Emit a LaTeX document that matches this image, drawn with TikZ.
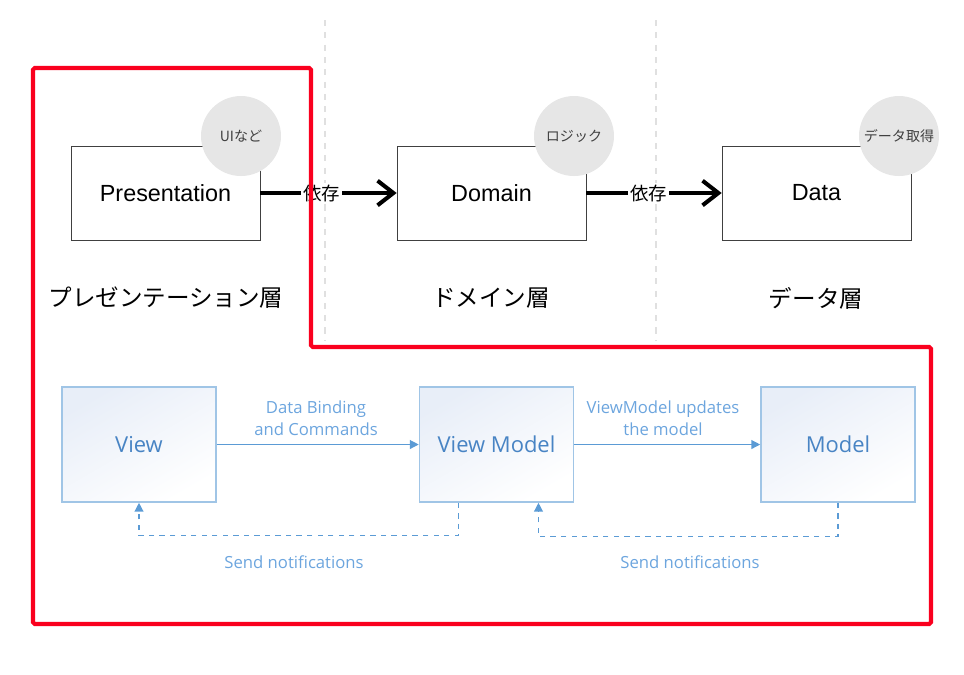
\documentclass[tikz,border=0pt]{standalone}
\usepackage{fontspec}
\setmainfont{Liberation Sans}
\newfontfamily\jpfont{Noto Sans CJK JP}
\newfontfamily\uifont{Open Sans}
\usetikzlibrary{arrows.meta, positioning}
\definecolor{alertred}{RGB}{250, 0, 30}
\definecolor{mvvmline}{RGB}{91, 155, 213}
\definecolor{mvvmedge}{RGB}{160, 197, 230}
\definecolor{mvvmtext}{RGB}{72, 132, 196}
\definecolor{mvvmlabel}{RGB}{108, 165, 222}
\definecolor{mvvmfill}{RGB}{232, 238, 248}
\definecolor{tagfill}{RGB}{230, 230, 230}

\begin{document}
\begin{tikzpicture}[
  x=0.02cm, y=-0.02cm,
  layerbox/.style={draw=black!75, fill=white, minimum width=3.78cm, minimum height=1.88cm, font=\fontsize{13.3}{15}\selectfont},
  tag/.style={circle, fill=tagfill, minimum size=1.6cm, inner sep=0pt, text=black!75, font=\jpfont\fontsize{8}{10}\selectfont},
  caption/.style={font=\jpfont\fontsize{13.4}{15}\selectfont},
  dep/.style={-{Straight Barb[length=9pt, width=14pt]}, line width=2.3pt},
  deplabel/.style={fill=white, inner sep=1pt, font=\jpfont\fontsize{10.5}{12}\selectfont},
  mvvm/.style={draw=mvvmedge, line width=0.9pt, top color=mvvmfill, bottom color=white, shading angle=30,
    minimum width=3.08cm, minimum height=2.3cm, text=mvvmtext, font=\uifont\fontsize{12.5}{15}\selectfont},
  flow/.style={-{Triangle[length=5pt, width=5pt]}, draw=mvvmline, line width=0.7pt},
  notif/.style={flow, dashed},
  flowlabel/.style={text=mvvmlabel, font=\uifont\fontsize{9.5}{12.5}\selectfont, align=center}
]
  \useasboundingbox (0,0) rectangle (964,674);

  % layer separators
  \draw[black!12, line width=1pt, dash pattern=on 3.5pt off 3.5pt] (325,20) -- (325,340);
  \draw[black!12, line width=1pt, dash pattern=on 3.5pt off 3.5pt] (656,20) -- (656,340);

  % clean architecture layers
  \node[layerbox] (pres) at (165.5,193) {Presentation};
  \node[layerbox] (dom)  at (491.5,193) {Domain};
  \node[layerbox] (data) at (816.5,193) {Data};

  \node[tag] (presTag) at (241,136) {UIなど};
  \node[tag] (domTag)  at (574,136) {ロジック};
  \node[tag] (dataTag) at (899,136) {データ取得};

  \draw[dep] (pres) -- node[deplabel, pos=0.45] {依存} (dom);
  \draw[dep] (dom) -- node[deplabel, pos=0.46] {依存} (data);

  \node[caption] (presCap) at (166,298) {プレゼンテーション層};
  \node[caption] (domCap)  at (491,298) {ドメイン層};
  \node[caption] (dataCap) at (816,298) {データ層};

  % MVVM
  \node[mvvm] (view)  at (139,444.5)   {View};
  \node[mvvm] (vm)    at (496.5,444.5) {View Model};
  \node[mvvm] (model) at (838,444.5)   {Model};

  \draw[flow] (view) -- (vm);
  \draw[flow] (vm) -- (model);
  \node[flowlabel] (bindLbl) at (316,418) {Data Binding\\and Commands};
  \node[flowlabel] (updLbl)  at (663,418) {ViewModel updates\\the model};

  \draw[notif] ([xshift=-0.76cm]vm.south) -- ++(0,33) -| (view.south);
  \draw[notif] (model.south) -- ++(0,34) -| ([xshift=0.84cm]vm.south);
  \node[flowlabel] (notifA) at (294,562) {Send notifications};
  \node[flowlabel] (notifB) at (690,562) {Send notifications};

  % highlighted region
  \draw[alertred, line width=2.3pt, rounded corners=1pt]
    (33,68) -- (311,68) -- (311,347) -- (931,347) -- (931,624) -- (33,624) -- cycle;
\end{tikzpicture}
\end{document}
